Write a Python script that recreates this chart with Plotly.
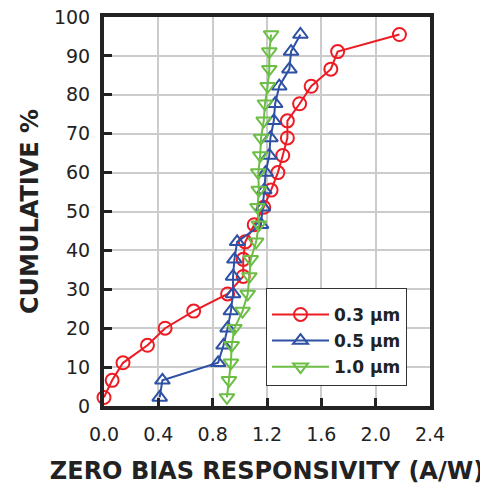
import plotly.graph_objects as go

cum_pct = [2.2, 6.6, 11.1, 15.6, 20.0, 24.4, 28.8, 33.3, 37.7, 42.2, 46.6,
           51.1, 55.5, 60.0, 64.4, 68.9, 73.3, 77.7, 82.2, 86.6, 91.1, 95.5]

resp_03 = [0.00, 0.06, 0.14, 0.32, 0.45, 0.66, 0.91, 1.025, 1.025, 1.04, 1.106,
           1.176, 1.23, 1.28, 1.316, 1.35, 1.35, 1.44, 1.525, 1.67, 1.72, 2.175]
resp_05 = [0.41, 0.43, 0.84, 0.88, 0.91, 0.934, 0.95, 0.95, 0.96, 0.98, 1.156,
           1.17, 1.18, 1.19, 1.217, 1.225, 1.25, 1.26, 1.29, 1.365, 1.377, 1.446]
resp_10 = [0.905, 0.92, 0.934, 0.94, 0.96, 1.02, 1.058, 1.07, 1.08, 1.12, 1.14,
           1.13, 1.14, 1.136, 1.15, 1.156, 1.176, 1.185, 1.205, 1.217, 1.217, 1.23]

series_names = ["0.3 \u03bcm", "0.5 \u03bcm", "1.0 \u03bcm"]
x_ticks = [0.0, 0.4, 0.8, 1.2, 1.6, 2.0, 2.4]
y_ticks = [0, 10, 20, 30, 40, 50, 60, 70, 80, 90, 100]

RED = "rgb(237,28,36)"
BLUE = "rgb(46,80,165)"
GREEN = "rgb(108,190,69)"

fig = go.Figure()
for i, (xs, name, color, sym) in enumerate([
    (resp_03, series_names[0], RED, "circle-open"),
    (resp_05, series_names[1], BLUE, "triangle-up-open"),
    (resp_10, series_names[2], GREEN, "triangle-down-open"),
]):
    fig.add_trace(go.Scatter(
        x=xs, y=cum_pct, name=name, mode="lines+markers", legendgroup=f"g{i}",
        line=dict(color=color, width=2),
        marker=dict(symbol=sym, size=13, color=color, line=dict(width=2, color=color)),
        cliponaxis=False,
    ))

tick_font = dict(family="DejaVu Sans", size=19, color="#222")
title_font = dict(family="DejaVu Sans", size=24, color="#222")

# page body has an 8px margin, so the figure is sized to fit the window
fig.update_layout(
    width=480, height=478,
    margin=dict(l=96, r=58, t=9, b=80),
    paper_bgcolor="white", plot_bgcolor="white",
    showlegend=True,
    legend=dict(
        x=0.497, y=0.303, xanchor="left", yanchor="top",
        bordercolor="#333", borderwidth=1, bgcolor="white",
        font=dict(family="DejaVu Sans", size=17, color="#222", weight="bold"),
        tracegroupgap=1, itemwidth=57,
        title=dict(text=" ", font=dict(size=6)),
    ),
)
fig.update_xaxes(
    range=[0, 2.4], tickvals=x_ticks, ticktext=[f"{v:.1f}" for v in x_ticks],
    showline=True, linecolor="#222", linewidth=4, mirror=True,
    ticks="inside", ticklen=8, tickwidth=3, tickcolor="#222",
    showgrid=True, gridcolor="#cccccc", gridwidth=1.5, zeroline=False,
    tickfont=tick_font, ticklabelstandoff=8, automargin=False,
    ticklabeloverflow="allow",
    title=dict(text="<b>ZERO BIAS RESPONSIVITY (A/W)</b>", font=title_font, standoff=19),
)
fig.update_yaxes(
    range=[0, 100], tickvals=y_ticks,
    showline=True, linecolor="#222", linewidth=4, mirror=True,
    ticks="inside", ticklen=8, tickwidth=3, tickcolor="#222",
    showgrid=True, gridcolor="#cccccc", gridwidth=1.5, zeroline=False,
    tickfont=tick_font, ticklabelstandoff=6, automargin=False,
    ticklabeloverflow="allow",
    title=dict(text="<b>CUMULATIVE %</b>", font=title_font, standoff=10),
)

fig.write_html("out.html")
